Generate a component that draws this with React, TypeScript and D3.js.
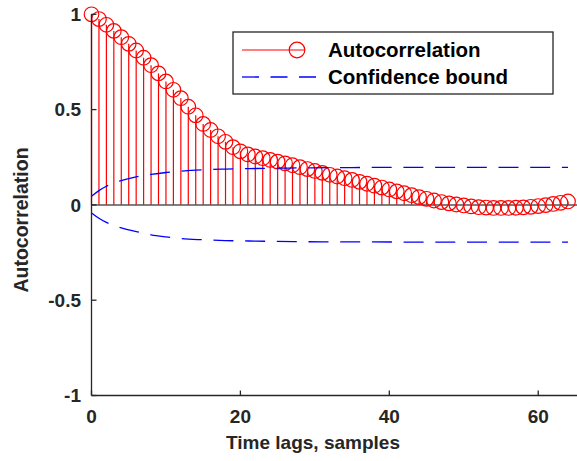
import React from "react";
import * as d3 from "d3";

// Autocorrelation values for lags 0..64
const acfValues: number[] = [
  1.0, 0.975, 0.945, 0.913, 0.88, 0.845, 0.81, 0.772, 0.733, 0.69,
  0.648, 0.604, 0.56, 0.515, 0.47, 0.425, 0.393, 0.36, 0.331, 0.303,
  0.281, 0.265, 0.254, 0.245, 0.236, 0.227, 0.218, 0.208, 0.198, 0.188,
  0.178, 0.168, 0.158, 0.149, 0.14, 0.131, 0.121, 0.111, 0.101, 0.091,
  0.081, 0.071, 0.061, 0.051, 0.041, 0.032, 0.023, 0.015, 0.008, 0.002,
  -0.003, -0.008, -0.012, -0.014, -0.016, -0.016, -0.016, -0.015, -0.013, -0.01,
  -0.006, -0.001, 0.005, 0.011, 0.018,
];

// Confidence bound (read at selected lags)
const boundLags: number[] = [0, 1, 2, 3, 4, 5, 6, 8, 10, 12, 15, 18, 22, 28, 35, 45, 55, 64];
const upperBound: number[] = [0.045, 0.075, 0.098, 0.115, 0.128, 0.138, 0.147, 0.16, 0.17, 0.177, 0.184, 0.188, 0.191, 0.194, 0.196, 0.197, 0.197, 0.197];
const lowerBound: number[] = [-0.042, -0.07, -0.092, -0.108, -0.12, -0.131, -0.14, -0.157, -0.168, -0.177, -0.183, -0.187, -0.19, -0.193, -0.194, -0.195, -0.195, -0.195];

const xTicks: number[] = [0, 20, 40, 60];
const yTicks: number[] = [-1, -0.5, 0, 0.5, 1];
const yTickLabels: string[] = ["-1", "-0.5", "0", "0.5", "1"];

const legendLabels: string[] = ["Autocorrelation", "Confidence bound"];

const FONT = "'Liberation Sans', Arial, Helvetica, sans-serif";
const AXIS = "#262626";

export default function App() {
  const W = 577;
  const H = 461;
  const x = d3.scaleLinear().domain([0, 64]).range([91.5, 568]);
  const y = d3.scaleLinear().domain([-1, 1]).range([395.5, 14.3]);

  const upperPts: [number, number][] = boundLags.map((l, i) => [l, upperBound[i]]);
  const lowerPts: [number, number][] = boundLags.map((l, i) => [l, lowerBound[i]]);
  const line = d3
    .line<[number, number]>()
    .x((d) => x(d[0]))
    .y((d) => y(d[1]))
    .curve(d3.curveMonotoneX);

  const xEnd = W;

  return (
    <svg
      width={W}
      height={H}
      style={{ position: "absolute", left: 0, top: 0, background: "#fff" }}
      fontFamily={FONT}
    >
      <rect x={0} y={0} width={W} height={H} fill="#fff" />
      {/* stems */}
      {acfValues.map((v, i) => (
        <line
          key={"s" + i}
          x1={x(i)}
          x2={x(i)}
          y1={y(0)}
          y2={y(v)}
          stroke="#ff0000"
          strokeWidth={1.2}
        />
      ))}
      {/* baseline */}
      <line x1={x(0)} x2={xEnd} y1={y(0)} y2={y(0)} stroke="#555" strokeWidth={1.5} />
      {/* markers */}
      {acfValues.map((v, i) => (
        <circle
          key={"c" + i}
          cx={x(i)}
          cy={y(v)}
          r={7.3}
          fill="none"
          stroke="#ff0000"
          strokeWidth={1.2}
        />
      ))}
      {/* confidence bounds */}
      <path d={line(upperPts) || ""} fill="none" stroke="#0000ff" strokeWidth={1.3} strokeDasharray="20 11.7" />
      <path d={line(lowerPts) || ""} fill="none" stroke="#0000ff" strokeWidth={1.3} strokeDasharray="20 11.7" />

      {/* axes */}
      <line x1={x(0)} x2={x(0)} y1={y(-1)} y2={y(1)} stroke={AXIS} strokeWidth={1.3} />
      <line x1={x(0)} x2={xEnd} y1={y(-1)} y2={y(-1)} stroke={AXIS} strokeWidth={1.3} />
      {yTicks.map((t, i) => (
        <g key={"yt" + i}>
          <line x1={x(0)} x2={x(0) + 5} y1={y(t)} y2={y(t)} stroke={AXIS} strokeWidth={1.3} />
          <text
            x={81}
            y={y(t)}
            dy="0.35em"
            textAnchor="end"
            fontSize={19}
            fontWeight="bold"
            fill={AXIS}
          >
            {yTickLabels[i]}
          </text>
        </g>
      ))}
      {xTicks.map((t, i) => (
        <g key={"xt" + i}>
          <line x1={x(t)} x2={x(t)} y1={y(-1)} y2={y(-1) - 5} stroke={AXIS} strokeWidth={1.3} />
          <text x={x(t)} y={423} textAnchor="middle" fontSize={19} fontWeight="bold" fill={AXIS}>
            {String(t)}
          </text>
        </g>
      ))}
      <text x={313} y={449} textAnchor="middle" fontSize={19} fontWeight="bold" fill={AXIS}>
        Time lags, samples
      </text>
      <text
        transform="translate(28,220) rotate(-90)"
        textAnchor="middle"
        fontSize={19.5}
        fontWeight="bold"
        fill={AXIS}
      >
        Autocorrelation
      </text>

      {/* legend */}
      <rect x={233} y={32} width={320} height={62} fill="#fff" stroke={AXIS} strokeWidth={1.3} />
      <line x1={242} x2={305} y1={50} y2={50} stroke="#ff0000" strokeWidth={1.2} />
      <circle cx={297} cy={50} r={7.8} fill="none" stroke="#ff0000" strokeWidth={1.2} />
      <line x1={242} x2={322} y1={77} y2={77} stroke="#0000ff" strokeWidth={1.3} strokeDasharray="17 11.5" />
      <text x={328} y={57} fontSize={20.5} fontWeight="bold" fill="#000">
        {legendLabels[0]}
      </text>
      <text x={328} y={84} fontSize={20.5} fontWeight="bold" fill="#000">
        {legendLabels[1]}
      </text>
    </svg>
  );
}
